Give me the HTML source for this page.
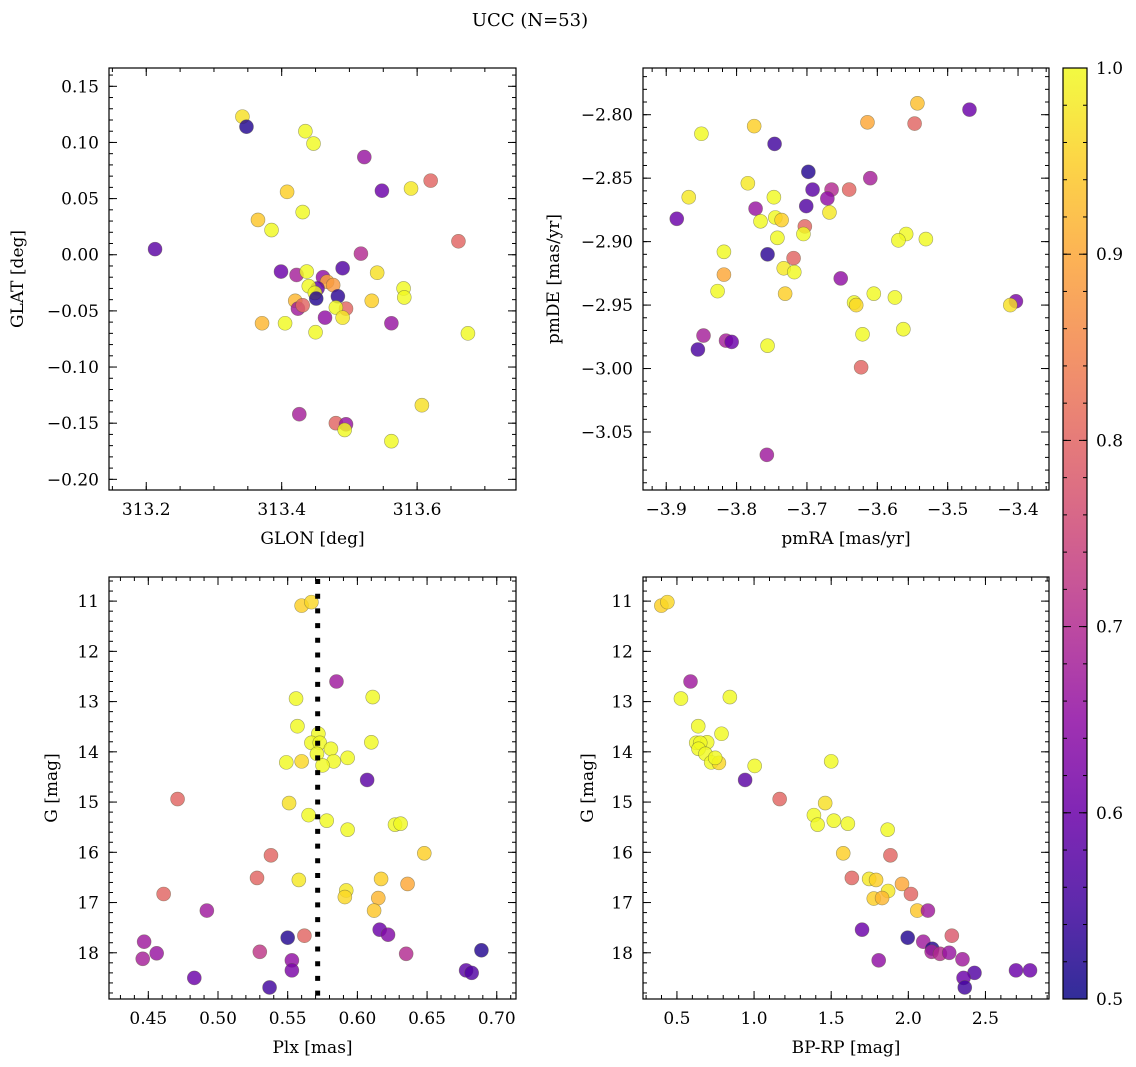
<!DOCTYPE html>
<html><head><meta charset="utf-8">
<style>
html,body{margin:0;padding:0;background:#fff;}
svg{display:block;font-family:"DejaVu Serif","Liberation Serif",serif;}
</style></head>
<body>
<svg id="fig" width="1136" height="1067" viewBox="0 0 1136 1067" xmlns="http://www.w3.org/2000/svg">
<text x="530" y="26" font-size="18" text-anchor="middle">UCC (N=53)</text>
</svg>
<script>
// Panel 1: GLON / GLAT
const p1Lon=[313.342,313.348,313.435,313.447,313.522,313.620,313.548,313.591,313.408,313.431,313.365,313.385,313.213,313.661,313.517,313.399,313.422,313.437,313.490,313.541,313.461,313.467,313.476,313.453,313.440,313.449,313.580,313.581,313.483,313.451,313.420,313.533,313.424,313.431,313.495,313.480,313.490,313.464,313.371,313.405,313.562,313.450,313.675,313.607,313.426,313.480,313.495,313.493,313.562];
const p1Lat=[0.123,0.114,0.110,0.099,0.087,0.066,0.057,0.059,0.056,0.038,0.031,0.022,0.005,0.012,0.001,-0.015,-0.018,-0.015,-0.012,-0.016,-0.020,-0.024,-0.027,-0.030,-0.028,-0.034,-0.030,-0.038,-0.037,-0.039,-0.041,-0.041,-0.048,-0.045,-0.048,-0.047,-0.056,-0.056,-0.061,-0.061,-0.061,-0.069,-0.070,-0.134,-0.142,-0.150,-0.151,-0.156,-0.166];
const p1Prob=[0.97,0.52,1,1,0.66,0.8,0.6,0.98,0.95,1,0.94,1,0.58,0.8,0.7,0.6,0.68,1,0.57,0.97,0.65,0.9,0.88,0.58,1,1,1,1,0.53,0.52,0.92,0.95,0.67,0.8,0.8,1,0.98,0.65,0.92,1,0.66,1,1,0.97,0.68,0.8,0.66,1,1];
// Panel 2: pmRA / pmDE
const p2PmRA=[-3.543,-3.469,-3.614,-3.547,-3.775,-3.850,-3.746,-3.698,-3.610,-3.784,-3.692,-3.665,-3.640,-3.671,-3.868,-3.747,-3.773,-3.701,-3.668,-3.885,-3.745,-3.736,-3.766,-3.703,-3.705,-3.742,-3.559,-3.570,-3.531,-3.818,-3.756,-3.719,-3.733,-3.718,-3.818,-3.652,-3.827,-3.731,-3.605,-3.575,-3.633,-3.630,-3.403,-3.411,-3.563,-3.621,-3.847,-3.815,-3.807,-3.855,-3.756,-3.623,-3.757];
const p2PmDE=[-2.791,-2.796,-2.806,-2.807,-2.809,-2.815,-2.823,-2.845,-2.850,-2.854,-2.859,-2.859,-2.859,-2.866,-2.865,-2.865,-2.874,-2.872,-2.877,-2.882,-2.881,-2.883,-2.884,-2.888,-2.894,-2.897,-2.894,-2.899,-2.898,-2.908,-2.910,-2.913,-2.921,-2.924,-2.926,-2.929,-2.939,-2.941,-2.941,-2.944,-2.948,-2.950,-2.947,-2.950,-2.969,-2.973,-2.974,-2.978,-2.979,-2.985,-2.982,-2.999,-3.068];
const p2Prob=[0.93,0.6,0.9,0.8,0.95,1,0.55,0.52,0.68,0.98,0.58,0.7,0.8,0.65,0.98,1,0.66,0.57,0.98,0.6,1,0.95,1,0.8,1,1,1,1,1,1,0.53,0.8,0.98,1,0.9,0.65,1,0.95,1,1,1,0.96,0.62,0.97,1,1,0.68,0.68,0.6,0.56,1,0.8,0.67];
// Panel 3: Plx / G
const p3Plx=[0.560,0.567,0.585,0.556,0.611,0.557,0.572,0.567,0.573,0.610,0.581,0.571,0.549,0.560,0.583,0.593,0.575,0.607,0.471,0.551,0.565,0.578,0.593,0.627,0.631,0.538,0.648,0.528,0.558,0.617,0.636,0.461,0.592,0.591,0.615,0.612,0.492,0.616,0.622,0.550,0.562,0.447,0.456,0.446,0.530,0.635,0.689,0.553,0.553,0.483,0.678,0.682,0.537];
const p3G=[11.09,11.02,12.60,12.94,12.91,13.49,13.64,13.82,13.82,13.81,13.94,14.04,14.21,14.19,14.19,14.12,14.27,14.56,14.94,15.02,15.26,15.37,15.55,15.45,15.43,16.06,16.02,16.51,16.55,16.53,16.63,16.83,16.76,16.89,16.91,17.16,17.16,17.54,17.64,17.70,17.66,17.78,18.01,18.12,17.98,18.02,17.95,18.15,18.35,18.50,18.35,18.40,18.69];
const p3Prob=[0.95,0.96,0.67,1,1,1,1,1,1,1,1,1,1,0.96,1,1,1,0.58,0.8,0.97,1,1,1,1,1,0.8,0.95,0.8,0.98,0.95,0.9,0.8,0.98,0.96,0.92,0.94,0.67,0.6,0.63,0.52,0.8,0.67,0.66,0.68,0.72,0.7,0.52,0.65,0.62,0.6,0.58,0.57,0.55];
const plxMean=[0.5715];
// Panel 4: BP-RP / G
const p4Color=[0.399,0.438,0.588,0.526,0.843,0.638,0.789,0.625,0.696,0.651,0.640,0.685,0.722,0.772,0.748,1.004,1.500,0.942,1.166,1.461,1.388,1.412,1.517,1.608,1.866,1.884,1.578,1.634,1.746,1.791,1.959,2.017,1.869,1.776,1.830,2.058,2.127,1.700,2.097,1.996,2.282,2.155,2.151,2.205,2.265,2.351,1.808,2.429,2.358,2.366,2.698,2.789];
const p4G=[11.09,11.02,12.60,12.94,12.91,13.49,13.64,13.82,13.81,13.82,13.94,14.04,14.21,14.22,14.12,14.28,14.19,14.56,14.94,15.02,15.26,15.45,15.37,15.43,15.55,16.06,16.02,16.51,16.53,16.55,16.63,16.83,16.77,16.92,16.91,17.16,17.16,17.54,17.78,17.70,17.66,17.92,17.98,18.02,18.00,18.13,18.15,18.40,18.50,18.69,18.35,18.35];
const p4Prob=[0.95,0.96,0.67,1,1,1,1,1,1,1,1,1,1,0.96,1,1,1,0.58,0.8,0.97,1,1,1,1,1,0.8,0.95,0.8,0.98,0.95,0.9,0.8,0.98,0.95,0.92,0.94,0.67,0.6,0.67,0.52,0.78,0.52,0.68,0.7,0.66,0.67,0.65,0.57,0.6,0.55,0.6,0.6];
const cbTicks=[0.5,0.6,0.7,0.8,0.9,1.0];

const NS="http://www.w3.org/2000/svg";
const svg=document.getElementById('fig');
const FS=17;
function mk(tag,attrs,parent){const e=document.createElementNS(NS,tag);for(const k in attrs)e.setAttribute(k,attrs[k]);(parent||svg).appendChild(e);return e;}
const stops=["#0d0887","#41049d","#6a00a8","#8f0da4","#b12a90","#cc4778","#e16462","#f2844b","#fca636","#fcce25","#f0f921"];
function hex(h){return [parseInt(h.substr(1,2),16),parseInt(h.substr(3,2),16),parseInt(h.substr(5,2),16)];}
function plasma(t){t=Math.max(0,Math.min(1,t));const f=t*10,i=Math.min(9,Math.floor(f)),u=f-i;const a=hex(stops[i]),b=hex(stops[i+1]);return 'rgb('+a.map((v,k)=>Math.round(v+(b[k]-v)*u)).join(',')+')';}
function cmap(p){return plasma((p-0.5)/0.5);}
function fmt(v,d){const s=Math.abs(v).toFixed(d);return (v<-1e-9?'\u2212':'')+s;}

function panel(c){
  const g=mk('g',{});
  
  
  const sx=v=>c.x0+(v-c.xd[0])/(c.xd[1]-c.xd[0])*(c.x1-c.x0);
  const sy=v=>c.y0+(v-c.yd[0])/(c.yd[1]-c.yd[0])*(c.y1-c.y0);
  c.sx=sx;c.sy=sy;
  const tg=mk('g',{stroke:'#000','stroke-width':1},g);
  
  
  const xmin=Math.min(...c.xd),xmax=Math.max(...c.xd),ymin=Math.min(...c.yd),ymax=Math.max(...c.yd);
  function ticks(lo,hi,step){const r=[];for(let k=Math.ceil(lo/step-1e-6);k*step<=hi+1e-9;k++)r.push(+(k*step).toFixed(6));return r;}
  ticks(xmin,xmax,c.xminor).forEach(v=>{const x=sx(v);mk('line',{x1:x,x2:x,y1:c.y1,y2:c.y1-4},tg);mk('line',{x1:x,x2:x,y1:c.y0,y2:c.y0+4},tg);});
  ticks(ymin,ymax,c.yminor).forEach(v=>{const y=sy(v);mk('line',{x1:c.x0,x2:c.x0+4,y1:y,y2:y},tg);mk('line',{x1:c.x1,x2:c.x1-4,y1:y,y2:y},tg);});
  ticks(xmin,xmax,c.xmajor).forEach(v=>{const x=sx(v);mk('line',{x1:x,x2:x,y1:c.y1,y2:c.y1-8},tg);mk('line',{x1:x,x2:x,y1:c.y0,y2:c.y0+8},tg);
    const t=mk('text',{x:x,y:c.y1+25,'font-size':FS,'text-anchor':'middle'},g);t.textContent=fmt(v,c.xdec);
    
    });
  ticks(ymin,ymax,c.ymajor).forEach(v=>{const y=sy(v);mk('line',{x1:c.x0,x2:c.x0+8,y1:y,y2:y},tg);mk('line',{x1:c.x1,x2:c.x1-8,y1:y,y2:y},tg);
    const t=mk('text',{x:c.x0-10,y:y+6,'font-size':FS,'text-anchor':'end'},g);t.textContent=fmt(v,c.ydec);
    
    });
  const xl=mk('text',{x:(c.x0+c.x1)/2,y:c.y1+54,'font-size':FS,'text-anchor':'middle'},g);xl.textContent=c.xlabel;
  
  
  const yl=mk('text',{x:0,y:0,'font-size':FS,'text-anchor':'middle',transform:'translate('+c.ylx+','+(c.y0+c.y1)/2+') rotate(-90)'},g);yl.textContent=c.ylabel;
  
  
  const pg=mk('g',{},g);
  
  
  for(let i=0;i<c.xs.length;i++){
    const col=cmap(c.ps[i]);
    const pt=mk('circle',{cx:sx(c.xs[i]),cy:sy(c.ys[i]),r:7,fill:col,'fill-opacity':0.82,stroke:'#5a5a3a','stroke-opacity':0.55,'stroke-width':0.6},pg);
    
    
  }
  const fr=mk('rect',{x:c.x0,y:c.y0,width:c.x1-c.x0,height:c.y1-c.y0,fill:'none',stroke:'#000','stroke-width':1.2},g);
  
  
  return c;
}

panel({name:'glon-glat-panel',x0:109,x1:516,y0:68,y1:490,xd:[313.145,313.746],yd:[0.1663,-0.2095],xmajor:0.2,xminor:0.05,ymajor:0.05,yminor:0.01,xdec:1,ydec:2,xlabel:'GLON [deg]',ylabel:'GLAT [deg]',ylx:23,xs:p1Lon,ys:p1Lat,ps:p1Prob});
panel({name:'pm-panel',x0:643,x1:1049,y0:68,y1:490,xd:[-3.933,-3.356],yd:[-2.7632,-3.0957],xmajor:0.1,xminor:0.02,ymajor:0.05,yminor:0.01,xdec:1,ydec:2,xlabel:'pmRA [mas/yr]',ylabel:'pmDE [mas/yr]',ylx:559,xs:p2PmRA,ys:p2PmDE,ps:p2Prob});
const c3=panel({name:'plx-g-panel',x0:109,x1:516,y0:577,y1:999,xd:[0.4218,0.7138],yd:[10.52,18.92],xmajor:0.05,xminor:0.01,ymajor:1,yminor:0.2,xdec:2,ydec:0,xlabel:'Plx [mas]',ylabel:'G [mag]',ylx:57,xs:p3Plx,ys:p3G,ps:p3Prob});
const ml=mk('line',{x1:c3.sx(plxMean[0]),x2:c3.sx(plxMean[0]),y1:579,y2:999,stroke:'#000','stroke-width':5,'stroke-dasharray':'5 9.7'});


panel({name:'cmd-panel',x0:643,x1:1049,y0:577,y1:999,xd:[0.280,2.912],yd:[10.52,18.92],xmajor:0.5,xminor:0.1,ymajor:1,yminor:0.2,xdec:1,ydec:0,xlabel:'BP-RP [mag]',ylabel:'G [mag]',ylx:593,xs:p4Color,ys:p4G,ps:p4Prob});

// colorbar
const defs=mk('defs',{});
const lg=mk('linearGradient',{id:'cbg',x1:0,y1:1,x2:0,y2:0},defs);
for(let i=0;i<=20;i++){mk('stop',{offset:(i/20),'stop-color':plasma(i/20),'stop-opacity':0.85},lg);}
const cb=mk('g',{});


const cx0=1063,cx1=1087,cy0=68,cy1=999;
mk('rect',{x:cx0,y:cy0,width:cx1-cx0,height:cy1-cy0,fill:'url(#cbg)'},cb);
const cs=v=>cy1-(v-0.5)/0.5*(cy1-cy0);
for(let k=0;k<=25;k++){const v=0.5+k*0.02,y=cs(v);mk('line',{x1:cx1,x2:cx1-4,y1:y,y2:y,stroke:'#000','stroke-width':1},cb);mk('line',{x1:cx0,x2:cx0+4,y1:y,y2:y,stroke:'#000','stroke-width':1},cb);}
cbTicks.forEach(v=>{const y=cs(v);mk('line',{x1:cx1,x2:cx1-8,y1:y,y2:y,stroke:'#000','stroke-width':1},cb);mk('line',{x1:cx0,x2:cx0+8,y1:y,y2:y,stroke:'#000','stroke-width':1},cb);
  const t=mk('text',{x:cx1+9,y:y+6,'font-size':FS},cb);t.textContent=v.toFixed(1);
  
  });
mk('rect',{x:cx0,y:cy0,width:cx1-cx0,height:cy1-cy0,fill:'none',stroke:'#000','stroke-width':1.2},cb);
</script>
</body></html>
